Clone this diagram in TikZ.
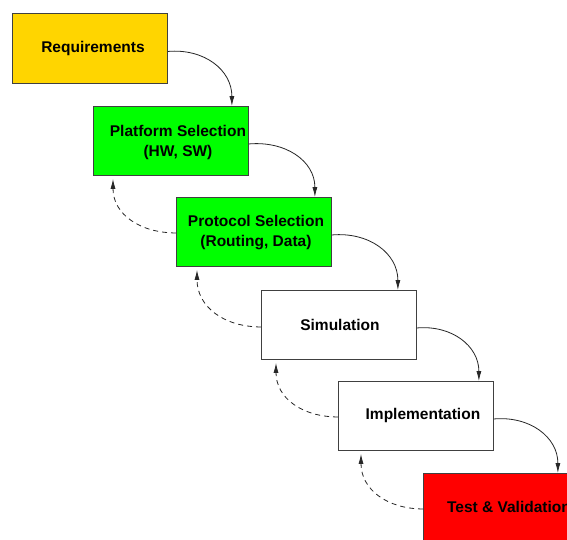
\documentclass[tikz,border=0pt]{standalone}
\usepackage{fontspec}
\setmainfont{Liberation Sans}
\usetikzlibrary{arrows.meta}
\begin{document}
\begin{tikzpicture}[x=1pt,y=-1pt,
  box/.style={draw=black!75,line width=0.9pt,minimum width=155pt,minimum height=69pt,inner sep=0pt,anchor=north west},
  lbl/.style={font=\fontsize{15.5}{20}\selectfont\bfseries,align=center,inner sep=0pt},
  fwd/.style={line width=0.8pt,black!85,-{Latex[length=10pt,width=5pt]}},
  back/.style={line width=0.8pt,black!85,dash pattern=on 5pt off 4pt,-{Latex[length=10pt,width=5pt]}}]
\clip (0,0) rectangle (567,539);
\fill[white] (0,0) rectangle (567,539);
\definecolor{gold}{HTML}{FFD500}
\node[box,fill=gold,minimum height=70pt] (req) at (12,13) {};
\node[box,fill=green] (plat) at (93,106) {};
\node[box,fill=green] (prot) at (176,197) {};
\node[box,fill=white] (sim) at (261,290) {};
\node[box,fill=white] (impl) at (338,381) {};
\node[box,fill=red] (test) at (423,473) {};
\node[lbl] (reqt) at ([xshift=3pt]req.center) {Requirements};
\node[lbl] (platt) at ([xshift=7pt,yshift=-2pt]plat.center) {Platform Selection\\(HW, SW)};
\node[lbl] (prott) at ([xshift=2pt,yshift=-1pt]prot.center) {Protocol Selection\\(Routing, Data)};
\node[lbl] (simt) at ([xshift=1pt,yshift=0pt]sim.center) {Simulation};
\node[lbl] (implt) at ([xshift=7pt,yshift=0pt]impl.center) {Implementation};
\node[lbl] (testt) at ([xshift=8pt,yshift=1pt]test.center) {Test \& Validation};
% forward arrows
\draw[fwd] ([yshift=-3pt]req.east) to[out=5,in=90,looseness=1.1] ([xshift=-17pt]plat.north east);
\draw[fwd] ([yshift=-3pt]plat.east) to[out=5,in=90,looseness=1.1] ([xshift=-17pt]prot.north east);
\draw[fwd] ([yshift=-3pt]prot.east) to[out=5,in=90,looseness=1.1] ([xshift=-19pt]sim.north east);
\draw[fwd] ([yshift=-3pt]sim.east) to[out=5,in=90,looseness=1.1] ([xshift=-15pt]impl.north east);
\draw[fwd] ([yshift=-3pt]impl.east) to[out=5,in=90,looseness=1.1] ([xshift=-21pt]test.north east);
% back arrows
\draw[back] ([yshift=-1pt]prot.west) to[out=180,in=-90,looseness=1.1] ([xshift=20pt,yshift=-3pt]plat.south west);
\draw[back] ([yshift=-2pt]sim.west) to[out=180,in=-90,looseness=1.1] ([xshift=21pt,yshift=-3pt]prot.south west);
\draw[back] ([yshift=-1pt]impl.west) to[out=180,in=-90,looseness=1.1] ([xshift=15pt,yshift=-3pt]sim.south west);
\draw[back] ([yshift=-1pt]test.west) to[out=180,in=-90,looseness=1.1] ([xshift=23pt,yshift=-3pt]impl.south west);
\end{tikzpicture}
\end{document}
